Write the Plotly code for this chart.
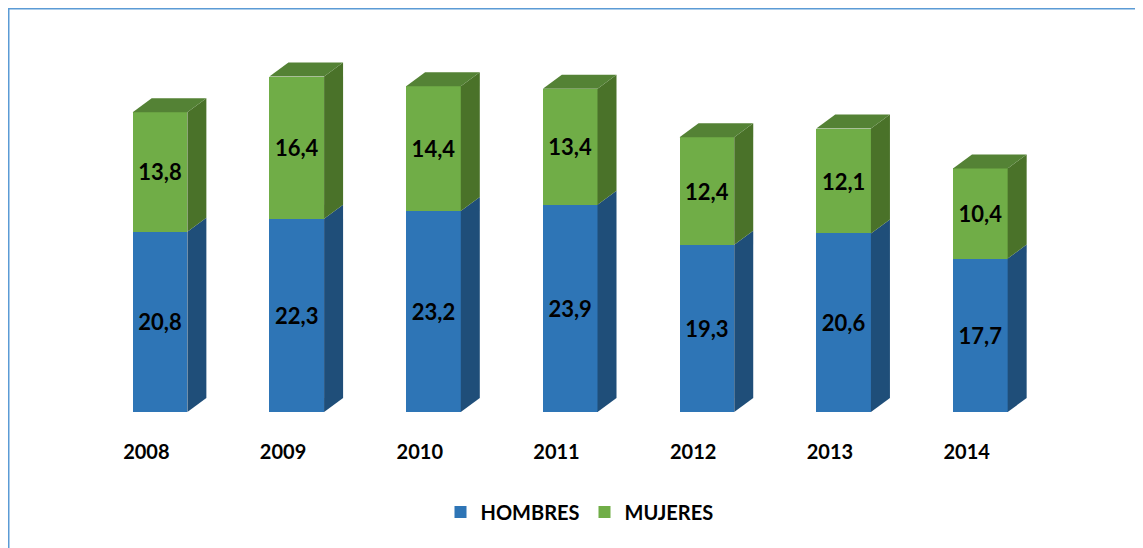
import plotly.graph_objects as go

years = ["2008", "2009", "2010", "2011", "2012", "2013", "2014"]
hombres = [20.8, 22.3, 23.2, 23.9, 19.3, 20.6, 17.7]
mujeres = [13.8, 16.4, 14.4, 13.4, 12.4, 12.1, 10.4]

W, H = 1143, 548
ML, MT, MB = 70, 14, 144
PW = 957
MR = W - ML - PW
PH = H - MT - MB
YMAX = 45.0
XR = (-0.5, 6.5)

shift = 0.1          # bars sit slightly right of their category label
bw = 0.4             # bar width (category units)
px_x = PW / (XR[1] - XR[0])
px_y = PH / YMAX
ddx = 19 / px_x      # depth offset in x units
ddy = 14 / px_y      # depth offset in y units

blue_front, blue_side = "#2E75B6", "#1F4E79"
green_front, green_side, green_top = "#70AD47", "#4A7229", "#548235"

pos = [i + shift for i in range(len(years))]

lab_font = dict(family="Lato", size=22, color="black", weight="bold")
fig = go.Figure()
fig.add_trace(go.Bar(x=pos, y=hombres, name="HOMBRES", width=bw,
                     marker=dict(color=blue_front, line=dict(width=0)),
                     texttemplate="%{y:.1f}", textposition="inside",
                     insidetextanchor="middle", textfont=lab_font))
fig.add_trace(go.Bar(x=pos, y=mujeres, name="MUJERES", width=bw,
                     marker=dict(color=green_front, line=dict(width=0)),
                     texttemplate="%{y:.1f}", textposition="inside",
                     insidetextanchor="middle", textfont=lab_font))

shapes = []
def poly(pts, color):
    d = "M " + " L ".join(f"{x},{y}" for x, y in pts) + " Z"
    return dict(type="path", path=d, xref="x", yref="y", fillcolor=color,
                line=dict(width=0), layer="above")

for p, h, m in zip(pos, hombres, mujeres):
    xr = p + bw / 2
    xl = p - bw / 2
    top = h + m
    shapes.append(poly([(xr, 0), (xr + ddx, ddy), (xr + ddx, h + ddy), (xr, h)], blue_side))
    shapes.append(poly([(xr, h), (xr + ddx, h + ddy), (xr + ddx, top + ddy), (xr, top)], green_side))
    shapes.append(poly([(xl, top), (xl + ddx, top + ddy), (xr + ddx, top + ddy), (xr, top)], green_top))

# outer border (chart area frame)
bx0 = (0.5 - ML) / PW
bx1 = (W + 20 - ML) / PW
by1 = 1 + (MT - 0.5) / PH
by0 = -(MB + 20) / PH
shapes.append(dict(type="rect", xref="paper", yref="paper", x0=bx0, x1=bx1, y0=by0, y1=by1,
                   line=dict(color="#5B9BD5", width=2), fillcolor="rgba(0,0,0,0)", layer="below"))

fig.update_layout(
    width=W, height=H,
    margin=dict(l=ML, r=MR, t=MT, b=MB),
    barmode="stack",
    separators=",.",
    plot_bgcolor="white", paper_bgcolor="white",
    shapes=shapes,
    showlegend=True,
    legend=dict(orientation="h", x=0.5, xanchor="center", xref="container",
                y=1 - 504 / H, yanchor="middle", yref="container",
                font=dict(family="Lato", size=20, color="black", weight="bold"),
                traceorder="normal"),
    font=dict(family="Lato", color="black"),
    uniformtext=dict(mode="show", minsize=10),
)
fig.update_xaxes(range=list(XR), tickmode="array", tickvals=list(range(len(years))),
                 ticktext=years, showgrid=False, zeroline=False, showline=False,
                 ticks="", ticklabelstandoff=26,
                 tickfont=dict(family="Lato", size=20, color="black", weight="bold"))
fig.update_yaxes(range=[0, YMAX], visible=False, showgrid=False, zeroline=False)

fig.write_html("out.html")
